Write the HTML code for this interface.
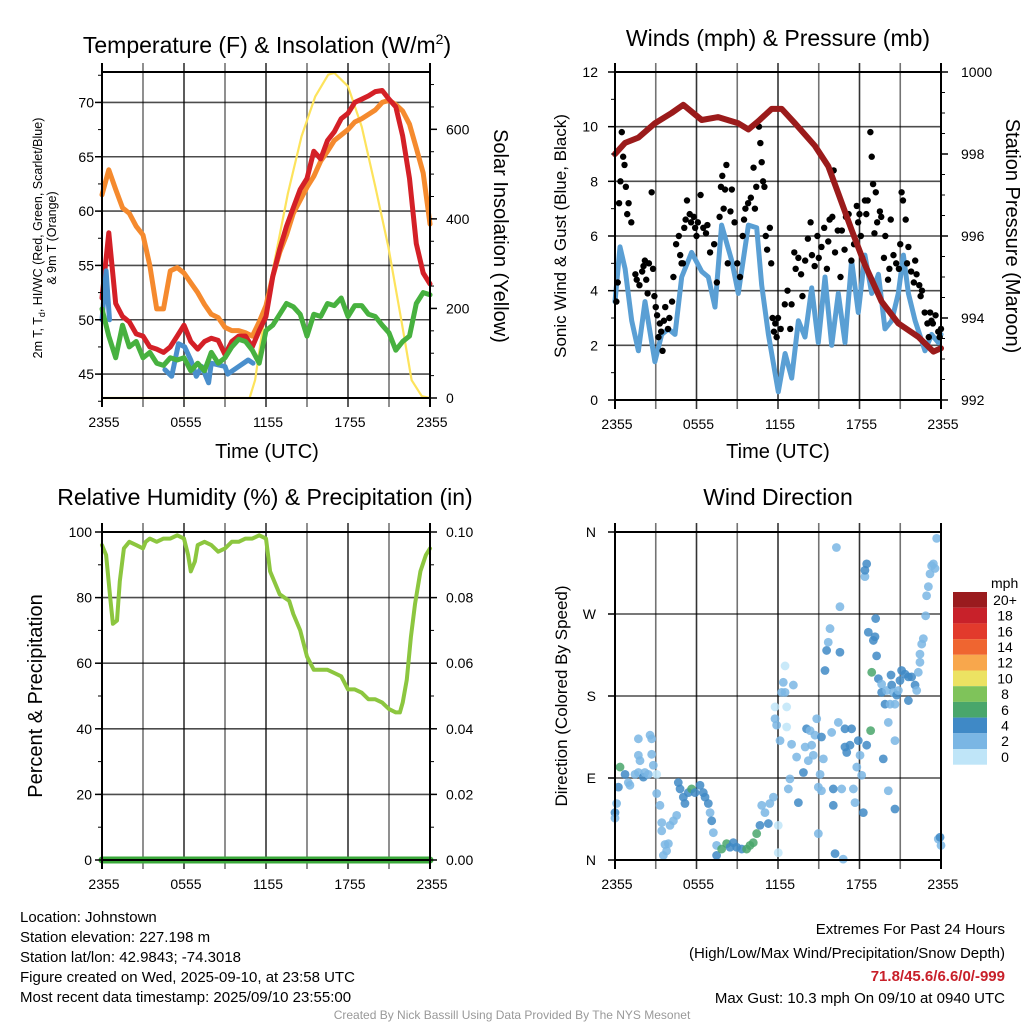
<!DOCTYPE html>
<html><head><meta charset="utf-8">
<style>
html,body{margin:0;padding:0;background:#fff;}
svg{display:block;font-family:"Liberation Sans",sans-serif;}
</style></head>
<body>
<svg id="c" width="1024" height="1024" viewBox="0 0 1024 1024" xmlns="http://www.w3.org/2000/svg">
<text x="267" y="53" font-size="23" text-anchor="middle">Temperature (F) &amp; Insolation (W/m<tspan font-size="14" dy="-9">2</tspan><tspan dy="9">)</tspan></text>
<text x="778" y="46" font-size="23" text-anchor="middle">Winds (mph) &amp; Pressure (mb)</text>
<text x="265" y="505" font-size="23" text-anchor="middle">Relative Humidity (%) &amp; Precipitation (in)</text>
<text x="778" y="505" font-size="23" text-anchor="middle">Wind Direction</text>

<text transform="translate(42,238) rotate(-90)" font-size="12.5" text-anchor="middle">2m T, T<tspan font-size="9" dy="3">d</tspan><tspan dy="-3">, HI/WC (Red, Green, Scarlet/Blue)</tspan></text>
<text transform="translate(56,238) rotate(-90)" font-size="12.5" text-anchor="middle">&amp; 9m T (Orange)</text>
<text transform="translate(494,236) rotate(90)" font-size="20" text-anchor="middle">Solar Insolation (Yellow)</text>
<text x="267" y="458" font-size="20" text-anchor="middle">Time (UTC)</text>
<text transform="translate(566,236) rotate(-90)" font-size="17" text-anchor="middle">Sonic Wind &amp; Gust (Blue, Black)</text>
<text transform="translate(1006,236) rotate(90)" font-size="20" text-anchor="middle">Station Pressure (Maroon)</text>
<text x="778" y="458" font-size="20" text-anchor="middle">Time (UTC)</text>
<text transform="translate(42,696) rotate(-90)" font-size="20" text-anchor="middle">Percent &amp; Precipitation</text>
<text transform="translate(567,696) rotate(-90)" font-size="17" text-anchor="middle">Direction (Colored By Speed)</text>

<g font-size="15">
<text x="20" y="922">Location: Johnstown</text>
<text x="20" y="942">Station elevation: 227.198 m</text>
<text x="20" y="962">Station lat/lon: 42.9843; -74.3018</text>
<text x="20" y="982">Figure created on Wed, 2025-09-10, at 23:58 UTC</text>
<text x="20" y="1002">Most recent data timestamp: 2025/09/10 23:55:00</text>
</g>
<g font-size="15" text-anchor="end">
<text x="1005" y="934">Extremes For Past 24 Hours</text>
<text x="1005" y="958">(High/Low/Max Wind/Precipitation/Snow Depth)</text>
<text x="1005" y="981" fill="#c8202a" font-weight="bold">71.8/45.6/6.6/0/-999</text>
<text x="1005" y="1003">Max Gust: 10.3 mph On 09/10 at 0940 UTC</text>
</g>
<text x="512" y="1019" font-size="12" fill="#999" text-anchor="middle">Created By Nick Bassill Using Data Provided By The NYS Mesonet</text>
</svg>
<script>
// ---------- data ----------
const timeLabels = ["2355","0555","1155","1755","2355"];
const halfHours = [0,0.5,1,1.5,2,2.5,3,3.5,4,4.5,5,5.5,6,6.5,7,7.5,8,8.5,9,9.5,10,10.5,11,11.5,12,12.5,13,13.5,14,14.5,15,15.5,16,16.5,17,17.5,18,18.5,19,19.5,20,20.5,21,21.5,22,22.5,23,23.5,24];
const temp9m = [61.5,63.8,62,60.3,59.8,58.6,57.8,55,51,51,54.5,54.8,54.3,53.4,52.5,51.4,50.5,50.2,49.3,49,49,48.8,48.5,49.8,51.3,54,56.2,57.8,59.8,61,62.2,63.2,64.6,65.5,66.5,67,67.5,68.2,68.5,68.9,69.3,70,70.2,69.8,69.2,68,65.8,63.5,58.8];
const temp2m = [52,58,51.5,50.3,49.8,48.7,48.5,47.5,47.3,47,47.5,48.5,49.5,48,47.3,48,48.3,48.1,46.8,48,48.5,48.5,47.5,49,50.3,54,56.5,58.6,60.3,62,63,65.5,64.8,66.5,67.3,68.5,69,70,70.3,70.6,71,71.1,70.3,69.6,66.9,63,57,54.3,53.3];
const dewpoint = [51,48.5,46.5,49.5,47.5,48,46.5,47,46,45.8,46.5,46.3,46.5,45.3,46,45.3,47,46,46.5,47.5,48.2,48,47.2,46,49,49.5,50.5,51.5,51.2,50.5,48.5,50.5,50.3,51.5,51.3,52,50.3,51.3,51.3,50.5,50.3,49.5,48.8,47.2,48,48.5,51.5,52.5,52.3];
const windChillTimes = [0,0.3,0.55,null,4.6,5.1,5.6,6.05,6.5,6.9,7.3,7.8,8,9,9.2,10,10.7,11.05];
const windChill = [50,54.5,50,null,45.4,44.8,47.8,47.5,46.3,44.8,45.7,44.2,46,45.7,45,45.7,46.3,46];
const solarTimes = [0,10.8,11.2,11.6,12.4,13.6,14.6,15.6,16.55,17,18,19,20,20.95,21.9,22.65,23.4,24];
const solar = [0,0,40,123,271,457,584,673,722,726,696,606,472,338,174,40,4,0];

const windTimes = [0,0.37,0.74,1.23,1.72,2.21,2.94,3.44,3.93,4.42,4.91,5.64,6.38,6.87,7.36,7.85,8.59,9.08,9.82,10.43,10.8,11.29,12.02,12.52,13.01,13.5,13.99,14.48,14.97,15.46,15.95,16.44,16.93,17.42,17.91,18.4,18.9,19.39,19.88,20.37,20.86,21.23,21.6,22.09,22.82,23.31,23.8,24];
const windSpeed = [3.6,5.6,4.8,2.9,1.8,3.6,1.4,2.4,2.6,2.4,4.5,5.4,4.7,4.5,3.4,6.4,5.1,3.9,6.4,6.3,4.2,2.4,0.3,1.7,0.8,2.9,2.3,4.1,2.1,4.5,2.0,3.9,2.1,5.1,3.2,5.3,3.9,4.6,2.6,2.9,3.9,5.3,3.9,2.9,1.8,2.4,2.1,2.4];
const gustTimes = [0.1,0.2,0.3,0.4,0.5,0.6,0.7,0.8,0.9,1.0,1.2,1.5,1.6,1.8,2.0,2.1,2.2,2.3,2.4,2.5,2.7,2.8,2.9,3.0,3.1,3.2,3.3,3.4,3.5,3.6,3.7,3.9,4.0,4.2,4.3,4.5,4.7,4.8,4.9,5.0,5.1,5.2,5.3,5.5,5.6,5.8,5.9,6.0,6.1,6.3,6.5,6.7,6.8,7.0,7.3,7.5,7.7,7.8,7.9,8.0,8.1,8.2,8.3,8.5,8.6,8.8,9.0,9.2,9.4,9.5,9.6,9.8,10.0,10.2,10.3,10.4,10.6,10.7,10.8,10.9,11.0,11.1,11.2,11.4,11.5,11.6,11.7,11.8,11.9,12.0,12.2,12.5,12.7,12.9,13.0,13.2,13.3,13.5,13.7,13.8,14.0,14.2,14.4,14.5,14.7,14.9,15.0,15.2,15.4,15.6,15.7,15.8,16.0,16.1,16.2,16.4,16.6,16.7,16.9,17.0,17.2,17.4,17.6,17.8,17.9,18.0,18.1,18.2,18.4,18.5,18.6,18.8,18.9,19.0,19.1,19.2,19.3,19.5,19.6,19.8,19.9,20.1,20.2,20.3,20.5,20.7,20.9,21.0,21.1,21.2,21.4,21.5,21.6,21.8,22.0,22.1,22.2,22.4,22.5,22.6,22.8,23.0,23.1,23.2,23.3,23.4,23.6,23.8,23.9,24.0];
const gustSpeed = [3.6,4.3,7.2,8.0,9.8,8.9,8.6,7.8,6.8,7.2,6.5,4.6,4.4,4.2,4.7,4.9,5.1,4.4,3.9,5.0,7.6,4.8,3.8,3.4,3.1,2.3,2.8,2.5,1.8,2.9,3.4,2.6,3.0,3.6,4.5,5.7,6.0,5.3,5.0,5.0,6.3,6.6,7.3,6.8,6.5,6.7,6.3,6.0,6.5,7.5,6.3,6.1,6.4,5.4,5.7,4.3,6.7,7.8,8.2,7.0,7.7,8.6,5.0,6.9,7.7,6.5,5.0,4.5,6.0,6.6,7.0,7.2,7.4,8.5,7.0,7.8,10.0,9.4,8.7,8.0,7.8,6.0,5.5,6.3,5.0,3.0,2.5,2.8,2.3,3.0,2.6,3.5,4.0,2.6,3.5,5.4,4.8,5.2,4.6,3.8,5.1,5.9,6.5,5.3,4.9,6.0,5.2,5.6,6.3,4.8,5.8,6.6,6.7,8.4,5.4,6.2,4.5,6.2,5.5,6.7,6.8,5.1,5.7,7.1,6.5,6.8,6.0,5.2,7.3,6.8,7.3,9.8,8.9,7.9,6.1,7.6,6.5,6.9,6.7,5.2,6.0,4.4,4.8,6.6,5.3,5.0,4.8,5.7,7.6,7.3,6.6,5.0,5.6,4.7,4.3,5.1,4.6,4.2,3.8,4.0,3.2,2.8,2.3,3.2,2.9,2.8,3.1,2.5,2.3,2.6];
const pressTimes = [0,0.74,1.72,2.94,4.17,5.03,6.38,7.6,9.08,9.82,10.55,11.53,12.27,13.25,14.72,15.7,16.44,17.42,18.4,19.63,20.86,22.33,23.44,24];
const pressure = [998.0,998.27,998.4,998.75,999.0,999.2,998.83,998.9,998.75,998.6,998.8,999.1,999.1,998.75,998.2,997.7,997.04,996.15,995.3,994.4,993.87,993.54,993.18,993.26];

const rhTimes = [0,0.3,0.6,0.8,1.1,1.3,1.6,2,2.5,3,3.2,3.5,4,4.5,5,5.5,6,6.3,6.5,6.8,7,7.5,8,8.5,9,9.5,10,10.5,11,11.5,12,12.3,13,13.7,14,14.5,15,15.5,16,16.5,17,17.5,18,18.5,19,19.5,20,20.5,21,21.5,21.8,22,22.3,22.6,22.9,23.3,23.7,24];
const rh = [96,93,80,72,73,85,95,97,96,95,97,98,97,98,98,99,98,93,88,91,96,97,96,94,95,97,97,98,98,99,98,88,81,79,75,70,62,58,58,58,57,56,52,52,51,49,49,48,46,45,45,48,55,68,78,88,93,95];
const precipTimes = [0,24];
const precip = [0,0];

const dirTimes = [0.37,0.25,0,0,0.12,0.74,0.98,1.1,1.47,1.72,2.09,2.2,2.45,3.07,2.82,2.7,1.72,1.84,1.72,2.58,2.7,3.07,3.31,3.44,3.44,3.68,3.56,3.93,3.8,4.05,4.3,4.54,4.66,4.79,5.03,5.15,5.4,5.64,5.89,6.26,6.5,6.63,6.87,7,7.12,7.24,7.48,7.48,7.85,8.22,8.47,8.71,8.96,9.33,9.69,9.94,10.18,10.43,10.67,10.8,11.04,11.29,11.4,11.66,12.02,12.02,11.78,11.9,12.15,12.27,12.39,12.52,12.52,11.78,12.64,12.64,13.13,13,12.88,12.76,13.37,13.5,13.87,14,14.1,14.23,14.36,14.48,14.6,14.72,14.85,14.97,15.2,15.2,15.34,15.1,14.97,15.46,15.58,15.7,15.83,16.2,16.3,16.44,16.56,16.56,15.95,16.07,16.07,16.69,16.8,16.93,16.93,17.06,17.3,17.42,17.55,17.67,17.8,17.91,18.04,18.16,18.28,18.4,18.4,18.53,18.65,18.53,18.82,18.9,19.02,19.14,19.26,19.19,19.39,19.63,19.63,19.75,19.88,20,20.12,20.25,20.12,20.32,20.37,20.49,20.61,20.61,20.61,20.74,20.86,20.98,21.1,21.35,21.6,21.6,21.84,22.09,22.21,22.33,22.45,22.45,22.58,22.7,22.87,22.94,23.07,23.19,23.31,23.44,23.56,23.68,23.8,24,23.93];
const dirDeg = [102,80,52,46,62,94,85,82,94,96,91,96,94,94,104,116,115,109,133,137,133,73,60,41,32,17,5,18,10,38,43,49,85,78,69,62,74,78,74,82,74,69,62,52,43,30,16,5,12,18,14,19,14,12,12,16,19,29,38,60,52,40,62,69,38,8,155,148,131,184,195,184,213,168,168,146,192,127,89,78,113,63,96,124,144,109,142,126,115,137,155,80,76,135,111,94,29,208,230,239,254,7,343,151,278,228,140,78,60,78,1,144,124,118,126,144,78,63,102,131,115,93,52,311,318,325,250,126,142,206,241,245,224,265,199,193,184,111,171,186,151,171,76,203,192,184,171,131,56,181,186,197,208,204,201,175,201,192,186,206,217,226,237,243,268,290,300,314,323,325,320,353,23,16,25];
const dirSpeed = [7,5,5,3,3,5,3,3,3,3,5,3,3,1,3,3,3,3,3,3,3,3,3,3,3,3,3,3,3,3,3,3,5,5,5,5,5,7,5,5,5,5,5,3,5,3,3,5,7,7,5,5,5,5,7,7,7,7,5,3,3,5,3,3,1,1,3,3,3,3,3,3,1,1,1,1,3,3,3,3,3,5,5,3,5,3,3,3,3,3,3,3,3,5,3,3,3,5,5,3,3,5,3,3,3,5,3,5,5,3,3,5,5,5,5,5,3,3,3,5,3,3,5,3,5,5,5,5,7,7,5,5,5,5,5,3,5,5,5,3,3,3,3,5,5,3,3,3,5,5,3,5,5,5,5,5,5,5,3,3,3,3,3,3,3,3,3,3,3,3,3,3,3,3,5,3];
const speedBinLabels = ["0","2","4","6","8","10","12","14","16","18","20+"];
const speedBinColors = ["#bfe5f8","#7ab6e4","#3f89c6","#49a66b","#7fc35a","#ece262","#f8a74c","#ef6530","#e23a2c","#c8212a","#9a1b1e"];

// ---------- drawing ----------
const svg = document.getElementById('c');
const NS = 'http://www.w3.org/2000/svg';
function mk(tag, attrs, parent){const e=document.createElementNS(NS,tag);for(const k in attrs)e.setAttribute(k,attrs[k]);(parent||svg).appendChild(e);return e;}

const P1={x0:102,x1:430,y0:72,y1:398}, P2={x0:615,x1:941,y0:72,y1:400}, P3={x0:102,x1:430,y0:532,y1:860}, P4={x0:615,x1:941,y0:532,y1:860};
function xs(P,t){return P.x0+t/24*(P.x1-P.x0);}
function lin(P,lo,hi){return v=>P.y1-(v-lo)/(hi-lo)*(P.y1-P.y0);}
const yT=lin(P1,42.8,72.8), yS=lin(P1,0,728);
const yW=lin(P2,0,12), yP=lin(P2,992,1000);
const yR=lin(P3,0,100), yPr=lin(P3,0,0.1);
const yD=lin(P4,0,360);

function frame(P,name){
  const g=mk('g',{});
  
  
  for(let i=1;i<8;i++){const x=xs(P,i*3);mk('line',{x1:x,x2:x,y1:P.y0-9,y2:P.y1+9,stroke:'#000','stroke-opacity':i%2?0.55:0.8,'stroke-width':1.6},g);}
  return g;
}
function hgrid(P,g,ys){ys.forEach(y=>mk('line',{x1:P.x0,x2:P.x1,y1:y,y2:y,stroke:'#000','stroke-opacity':0.7,'stroke-width':1.6},g));}
function border(P,name){
  const r=mk('rect',{x:P.x0,y:P.y0,width:P.x1-P.x0,height:P.y1-P.y0,fill:'none',stroke:'#000','stroke-width':2});
  
  
  [P.x0,P.x1].forEach(x=>{mk('line',{x1:x,x2:x,y1:P.y0-9,y2:P.y1+9,stroke:'#000','stroke-width':2});});
  timeLabels.forEach((l,i)=>{
    const t=mk('text',{x:xs(P,i*6)+2,y:P.y1+29,'font-size':14,'text-anchor':'middle'});
    
    
    t.textContent=l;
  });
}
function ticksL(P,vals,f,labels,minor,anchorX){
  vals.forEach((v,i)=>{const y=f(v);mk('line',{x1:P.x0-7,x2:P.x0,y1:y,y2:y,stroke:'#000','stroke-width':1.5});
    if(labels[i]!==''){const t=mk('text',{x:anchorX,y:y+5,'font-size':14,'text-anchor':'end'});
    
    
    t.textContent=labels[i];}});
  minor.forEach(v=>{const y=f(v);mk('line',{x1:P.x0-4,x2:P.x0,y1:y,y2:y,stroke:'#000','stroke-width':1});});
}
function ticksR(P,vals,f,labels,minor,anchorX){
  vals.forEach((v,i)=>{const y=f(v);mk('line',{x1:P.x1,x2:P.x1+7,y1:y,y2:y,stroke:'#000','stroke-width':1.5});
    const t=mk('text',{x:anchorX,y:y+5,'font-size':14,'text-anchor':'start'});
    
    
    t.textContent=labels[i];});
  minor.forEach(v=>{const y=f(v);mk('line',{x1:P.x1,x2:P.x1+4,y1:y,y2:y,stroke:'#000','stroke-width':1});});
}
function path(P,times,vals,f,color,w,name){
  let d='',pen=false;
  times.forEach((t,i)=>{if(t===null||vals[i]===null){pen=false;return;}d+=(pen?'L':'M')+xs(P,t).toFixed(1)+','+f(vals[i]).toFixed(1);pen=true;});
  const e=mk('path',{d:d,fill:'none',stroke:color,'stroke-width':w,'stroke-linejoin':'round','stroke-linecap':'round'});
  
  
  return e;
}
function range(a,b,s){const r=[];for(let v=a;v<=b+1e-9;v+=s)r.push(+v.toFixed(3));return r;}

// Panel 1
let g1=frame(P1,'temp'); hgrid(P1,g1,[45,50,55,60,65,70].map(yT));
path(P1,solarTimes,solar,yS,'#fde35c',2.2,'solar-insolation-line');
path(P1,halfHours,temp9m,yT,'#f58a2e',5,'temp-9m-line');
path(P1,halfHours,temp2m,yT,'#d42027',5,'temp-2m-line');
path(P1,windChillTimes,windChill,yT,'#4a8fcc',5,'wind-chill-line');
path(P1,halfHours,dewpoint,yT,'#47b13f',5,'dewpoint-line');
border(P1,'temp');
ticksL(P1,[45,50,55,60,65,70],yT,['45','50','55','60','65','70'],range(42.5,72.5,2.5),94);
ticksR(P1,[0,200,400,600],yS,['0','200','400','600'],range(0,700,50),446);

// Panel 2
let g2=frame(P2,'wind'); hgrid(P2,g2,[2,4,6,8,10].map(yW));
path(P2,windTimes,windSpeed,yW,'#5a9fd4',5,'sonic-wind-line');
gustTimes.forEach((t,i)=>{const c=mk('circle',{cx:xs(P2,t),cy:yW(gustSpeed[i]),r:3.2,fill:'#000'});
  
  });
path(P2,pressTimes,pressure,yP,'#9b1b1b',6,'pressure-line');
border(P2,'wind');
ticksL(P2,[0,2,4,6,8,10,12],yW,['0','2','4','6','8','10','12'],range(0,12,1),598);
ticksR(P2,[992,994,996,998,1000],yP,['992','994','996','998','1000'],range(992,1000,0.5),961);

// Panel 3
let g3=frame(P3,'rh'); hgrid(P3,g3,[20,40,60,80].map(yR));
path(P3,rhTimes,rh,yR,'#8cc63f',4,'relative-humidity-line');
path(P3,precipTimes,precip,yPr,'#3aa83a',7,'precipitation-line');
border(P3,'rh');
ticksL(P3,[0,20,40,60,80,100],yR,['0','20','40','60','80','100'],range(0,100,10),92);
ticksR(P3,[0,0.02,0.04,0.06,0.08,0.1],yPr,['0.00','0.02','0.04','0.06','0.08','0.10'],range(0,0.1,0.01),446);

// Panel 4
let g4=frame(P4,'dir'); hgrid(P4,g4,[90,180,270].map(yD));
dirTimes.forEach((t,i)=>{const bin=Math.min(10,Math.floor(dirSpeed[i]/2));
  const c=mk('circle',{cx:xs(P4,t),cy:yD(dirDeg[i]),r:4.4,fill:speedBinColors[bin],'fill-opacity':0.85});
  
  });
border(P4,'dir');
ticksL(P4,[0,90,180,270,360],yD,['N','E','S','W','N'],[],596);

// Colorbar
const cbTop=592, cbH=15.7;
const mph=mk('text',{x:991,y:588,'font-size':14});


mph.textContent='mph';
for(let i=0;i<11;i++){
  const bin=10-i, y=cbTop+i*cbH;
  const r=mk('rect',{x:953,y:y,width:34,height:cbH,fill:speedBinColors[bin]});
  
  
  const t=mk('text',{x:1005,y:y+cbH/2+5,'font-size':14,'text-anchor':'middle'});
  
  
  t.textContent=speedBinLabels[bin];
}
</script>
</body></html>
